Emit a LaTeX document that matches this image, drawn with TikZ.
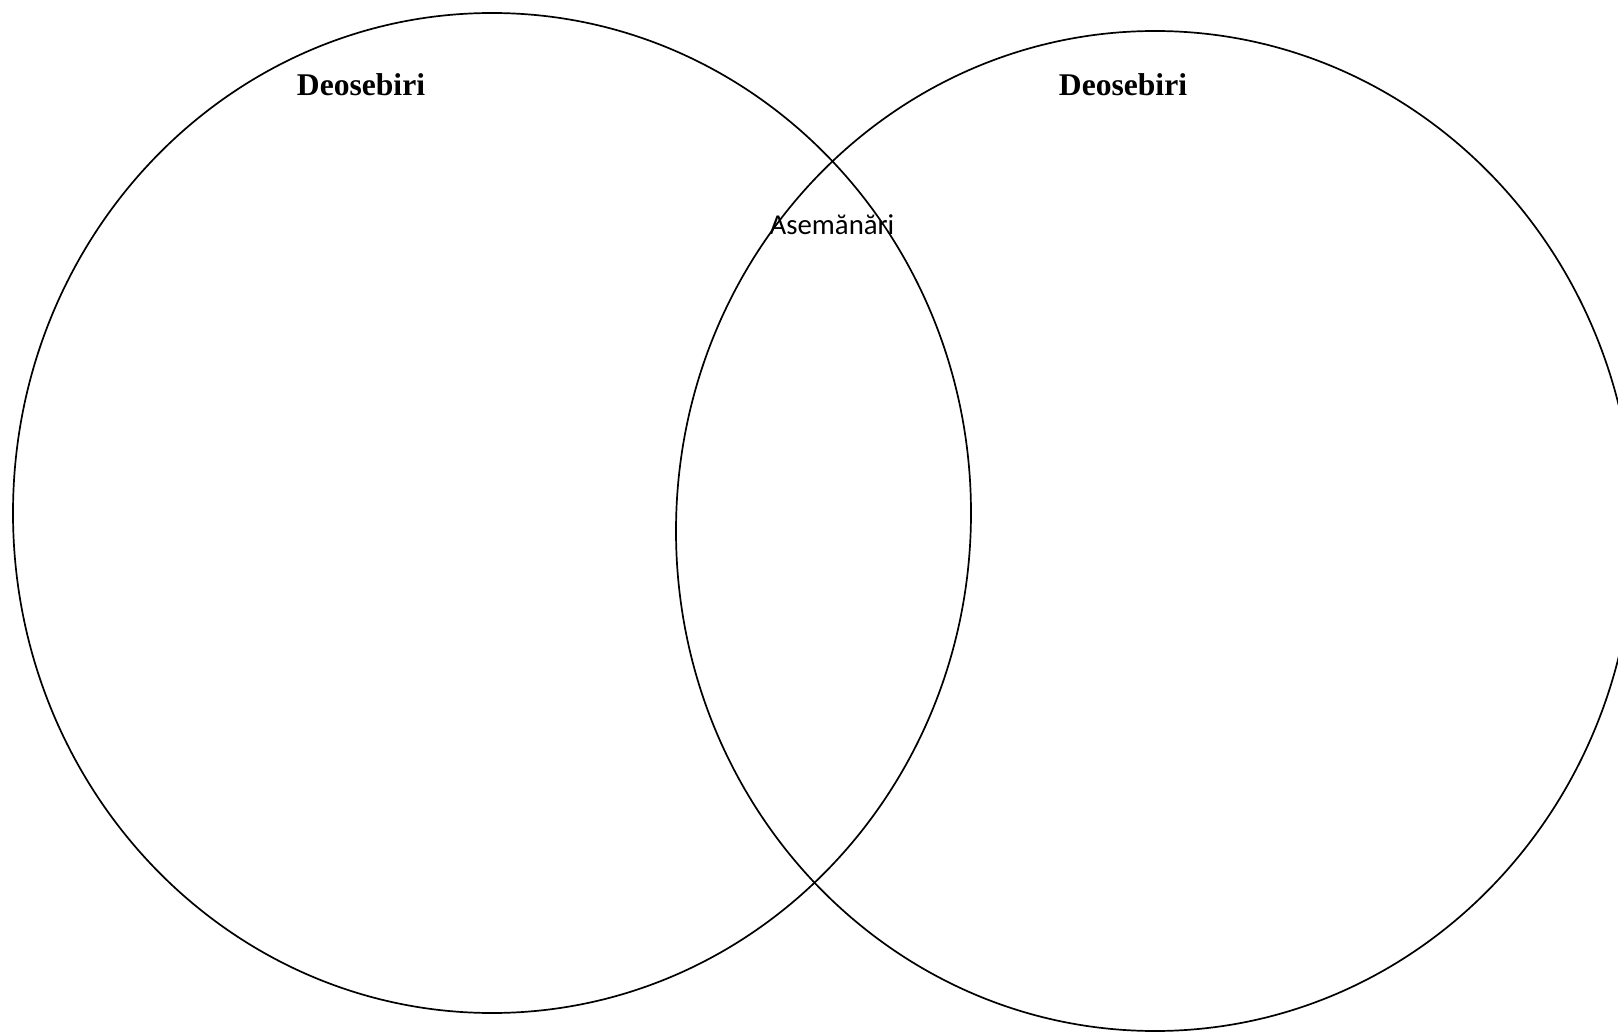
\documentclass[tikz,border=0pt]{standalone}
\usepackage{fontspec}
\setmainfont{Liberation Serif}
\newfontfamily\calibrifont{Carlito}
\begin{document}
\begin{tikzpicture}[x=1pt,y=-1pt,line width=1.7pt,every node/.style={anchor=base,inner sep=0pt}]
  \useasboundingbox (0,0) rectangle (1618,1032);
  \clip (0,0) rectangle (1618,1032);
  \draw (492,513) ellipse [x radius=479,y radius=500];
  \draw (1155,531) ellipse [x radius=479,y radius=500];
  \node[font=\fontsize{31.6}{36}\selectfont\bfseries] (leftdiff) at (361,96) {Deosebiri};
  \node[font=\fontsize{31.6}{36}\selectfont\bfseries] (rightdiff) at (1123,96) {Deosebiri};
  \node[font=\calibrifont\fontsize{28.8}{32}\selectfont] (common) at (832,235) {Asemănări};
\end{tikzpicture}
\end{document}
